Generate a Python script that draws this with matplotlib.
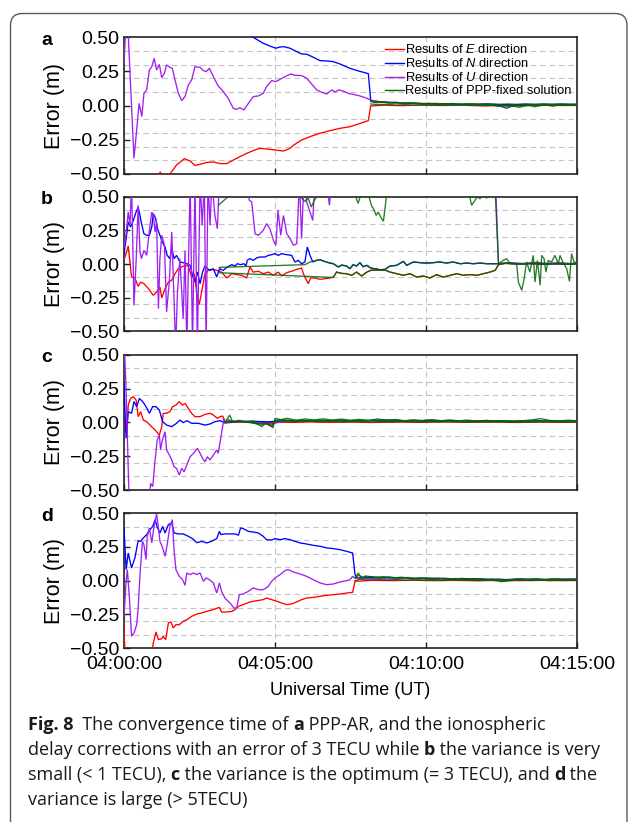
import matplotlib
matplotlib.use("Agg")
import matplotlib.pyplot as plt
from matplotlib.patches import FancyBboxPatch
from matplotlib.ticker import FixedLocator, MultipleLocator, FuncFormatter
from matplotlib.lines import Line2D

plt.rcParams["font.family"] = ["Liberation Sans", "DejaVu Sans"]
plt.rcParams["mathtext.fontset"] = "custom"
plt.rcParams["mathtext.rm"] = "Liberation Sans"
plt.rcParams["mathtext.it"] = "Liberation Sans:italic"

# ---------------------------------------------------------------------------
# Positioning errors (m) against minutes after 04:00:00 UT
# each series: list of (minute, error)
# ---------------------------------------------------------------------------

# (a) PPP-AR
A_E = [(0.0, -0.90), (0.5, -0.72), (0.9, -0.58), (1.14, -0.51), (1.2, -0.485), (1.27, -0.51),
       (1.4, -0.52), (1.52, -0.50), (1.74, -0.434), (2.0, -0.388), (2.19, -0.405), (2.35, -0.437),
       (2.52, -0.429), (2.74, -0.415), (2.96, -0.412), (3.18, -0.424), (3.4, -0.424), (3.62, -0.398),
       (3.84, -0.373), (4.06, -0.349), (4.28, -0.329), (4.5, -0.312), (4.72, -0.317), (5.0, -0.324),
       (5.28, -0.332), (5.5, -0.312), (5.61, -0.29), (5.88, -0.251), (6.16, -0.227), (6.49, -0.202),
       (6.82, -0.183), (7.15, -0.166), (7.48, -0.154), (7.7, -0.139), (7.92, -0.122), (8.09, -0.11),
       (8.17, -0.002), (8.6, 0.003), (9.2, 0.0), (9.8, 0.004), (10.5, 0.001), (11.2, 0.003),
       (11.9, -0.002), (12.6, 0.002), (13.3, 0.0), (14.0, 0.003), (14.6, 0.001), (15.0, 0.002)]
A_N = [(0.0, 0.98), (1.0, 0.86), (2.0, 0.74), (3.0, 0.63), (4.0, 0.54), (4.28, 0.50), (4.61, 0.456),
       (4.94, 0.427), (5.03, 0.42), (5.15, 0.428), (5.28, 0.432), (5.5, 0.42), (5.61, 0.407),
       (5.88, 0.378), (6.05, 0.376), (6.27, 0.354), (6.49, 0.329), (6.71, 0.327), (6.93, 0.322),
       (7.15, 0.305), (7.48, 0.273), (7.73, 0.256), (8.04, 0.237), (8.09, 0.234), (8.17, 0.037),
       (8.5, 0.028), (9.0, 0.022), (9.6, 0.017), (10.2, 0.014), (10.8, 0.012), (11.4, 0.01),
       (12.0, 0.012), (12.6, 0.008), (13.2, 0.01), (13.8, 0.009), (14.4, 0.011), (15.0, 0.01)]
A_U = [(0.0, 0.31), (0.07, 0.62), (0.14, 0.52), (0.33, -0.385), (0.42, -0.178), (0.5, 0.017),
       (0.59, -0.08), (0.66, 0.09), (0.75, 0.115), (0.84, 0.26), (0.92, 0.285), (1.0, 0.346),
       (1.08, 0.261), (1.17, 0.302), (1.25, 0.205), (1.34, 0.237), (1.41, 0.298), (1.52, 0.28),
       (1.6, 0.273), (1.69, 0.188), (1.8, 0.09), (1.91, 0.037), (2.02, 0.066), (2.13, 0.151),
       (2.24, 0.188), (2.35, 0.285), (2.52, 0.28), (2.63, 0.256), (2.72, 0.249), (2.83, 0.273),
       (2.96, 0.212), (3.12, 0.144), (3.29, 0.102), (3.45, 0.054), (3.62, -0.02), (3.73, -0.027),
       (3.84, -0.015), (3.97, -0.032), (4.12, 0.017), (4.28, 0.066), (4.45, 0.071), (4.61, 0.09),
       (4.72, 0.139), (4.89, 0.183), (5.03, 0.176), (5.17, 0.193), (5.33, 0.212), (5.52, 0.232),
       (5.66, 0.222), (5.88, 0.22), (6.05, 0.2), (6.21, 0.159), (6.38, 0.115), (6.55, 0.098),
       (6.71, 0.085), (6.88, 0.115), (6.99, 0.1), (7.1, 0.115), (7.26, 0.107), (7.43, 0.09),
       (7.59, 0.083), (7.81, 0.071), (8.04, 0.054), (8.17, 0.041), (8.4, 0.03), (9.0, 0.02),
       (9.6, 0.015), (10.2, 0.01), (10.8, 0.008), (11.4, 0.005), (12.0, 0.01), (12.6, -0.01),
       (13.2, 0.0), (13.8, 0.005), (14.4, 0.008), (15.0, 0.006)]
A_FE = [(8.17, 0.012), (8.4, 0.008), (8.7, 0.01), (9.0, 0.004), (9.3, 0.008), (9.6, 0.003),
        (9.9, 0.006), (10.2, 0.002), (10.5, 0.006), (10.8, 0.003), (11.1, 0.007), (11.4, 0.002),
        (11.7, 0.005), (12.0, 0.001), (12.3, 0.004), (12.6, 0.0), (12.9, 0.003), (13.2, -0.001),
        (13.5, 0.004), (13.8, 0.001), (14.1, 0.005), (14.4, 0.002), (14.7, 0.004), (15.0, 0.002)]
A_FN = [(8.17, 0.03), (8.35, 0.022), (8.6, 0.026), (8.85, 0.018), (9.1, 0.022), (9.4, 0.015),
        (9.7, 0.02), (10.0, 0.012), (10.3, 0.017), (10.6, 0.011), (10.9, 0.016), (11.2, 0.01),
        (11.5, 0.015), (11.8, 0.009), (12.1, 0.013), (12.4, 0.008), (12.7, 0.012), (13.0, 0.007),
        (13.3, 0.013), (13.6, 0.009), (13.9, 0.014), (14.2, 0.008), (14.5, 0.012), (14.8, 0.009),
        (15.0, 0.011)]
A_FU = [(8.17, 0.035), (8.3, 0.025), (8.5, 0.03), (8.75, 0.02), (9.0, 0.026), (9.25, 0.015),
        (9.5, 0.022), (9.8, 0.012), (10.1, 0.018), (10.4, 0.008), (10.7, 0.015), (11.0, 0.005),
        (11.3, 0.012), (11.6, 0.004), (11.9, 0.01), (12.2, 0.002), (12.5, -0.005), (12.67, -0.02),
        (12.85, -0.002), (13.1, -0.012), (13.35, 0.005), (13.6, -0.008), (13.9, 0.006),
        (14.2, -0.004), (14.5, 0.008), (14.8, 0.002), (15.0, 0.006)]

# (b) ionospheric correction, variance very small
B_E = [(0.0, 0.027), (0.14, 0.134), (0.25, -0.097), (0.36, -0.104), (0.47, -0.166), (0.55, -0.134),
       (0.66, -0.146), (0.81, -0.183), (0.97, -0.233), (1.08, -0.208), (1.19, -0.171), (1.25, -0.252),
       (1.36, -0.183), (1.47, -0.134), (1.58, -0.121), (1.69, -0.072), (1.8, -0.035), (1.91, -0.022),
       (2.02, -0.01), (2.13, -0.015), (2.24, -0.097), (2.32, -0.072), (2.41, -0.208), (2.49, -0.302),
       (2.57, -0.208), (2.68, -0.072), (2.79, -0.047), (2.9, -0.04), (3.07, -0.047), (3.23, -0.06),
       (3.4, -0.104), (3.57, -0.072), (3.73, -0.079), (3.9, -0.084), (4.06, -0.104), (4.17, -0.022),
       (4.28, -0.06), (4.45, -0.054), (4.61, -0.072), (4.78, -0.06), (4.94, -0.084), (5.11, -0.06),
       (5.22, -0.089), (5.39, -0.064), (5.55, -0.054), (5.72, -0.04), (5.88, -0.03), (5.94, -0.072),
       (6.1, -0.146), (6.18, -0.104), (6.32, -0.104), (6.49, -0.114), (6.66, -0.109), (6.82, -0.104),
       (6.93, -0.097), (7.04, -0.06), (7.21, -0.07), (7.37, -0.072), (7.54, -0.084), (7.7, -0.06),
       (7.87, -0.089), (8.04, -0.06), (8.2, -0.045), (8.37, -0.047), (8.59, -0.04), (8.81, -0.06),
       (9.03, -0.072), (9.25, -0.084), (9.47, -0.072), (9.69, -0.097), (9.91, -0.089), (10.13, -0.104),
       (10.35, -0.079), (10.57, -0.097), (10.8, -0.084), (11.02, -0.072), (11.24, -0.084),
       (11.46, -0.079), (11.68, -0.084), (11.9, -0.072), (12.12, -0.06), (12.29, -0.047),
       (12.4, -0.005), (12.6, 0.005), (13.0, 0.0), (13.4, 0.004), (13.8, -0.003), (14.2, 0.002),
       (14.6, -0.002), (15.0, 0.001)]
B_N = [(0.0, 0.077), (0.07, 0.188), (0.14, 0.312), (0.22, 0.275), (0.31, 0.324), (0.4, 0.386),
       (0.47, 0.423), (0.53, 0.361), (0.58, 0.3), (0.66, 0.225), (0.75, 0.213), (0.84, 0.213),
       (0.92, 0.275), (0.97, 0.374), (1.05, 0.337), (1.11, 0.262), (1.19, 0.213), (1.27, 0.163),
       (1.36, 0.126), (1.43, 0.064), (1.52, 0.04), (1.58, 0.114), (1.66, 0.04), (1.74, 0.064),
       (1.85, 0.015), (1.96, 0.01), (2.08, 0.002), (2.19, -0.01), (2.27, -0.084), (2.35, -0.134),
       (2.43, -0.06), (2.52, -0.146), (2.6, -0.06), (2.68, -0.015), (2.76, -0.035), (2.85, -0.047),
       (2.96, -0.035), (3.07, -0.097), (3.16, -0.035), (3.29, -0.047), (3.42, -0.022), (3.57, -0.005),
       (3.68, -0.015), (3.75, 0.002), (3.86, -0.005), (3.97, 0.002), (4.04, -0.015), (4.08, 0.027),
       (4.17, 0.04), (4.28, 0.027), (4.39, 0.045), (4.5, 0.052), (4.67, 0.052), (4.78, 0.064),
       (4.89, 0.069), (5.0, 0.077), (5.11, 0.064), (5.22, 0.077), (5.39, 0.069), (5.55, 0.064),
       (5.66, 0.015), (5.77, 0.027), (5.88, 0.002), (5.99, 0.015), (6.07, 0.126), (6.16, 0.064),
       (6.25, 0.015), (6.38, 0.027), (6.49, 0.032), (6.6, 0.022), (6.77, 0.01), (6.93, 0.002),
       (7.1, -0.022), (7.21, -0.008), (7.37, -0.015), (7.48, -0.035), (7.59, -0.005), (7.7, -0.015),
       (7.81, 0.01), (7.92, -0.02), (8.04, -0.01), (8.17, -0.03), (8.31, -0.035), (8.59, -0.047),
       (8.81, -0.015), (9.03, -0.01), (9.25, 0.02), (9.36, -0.01), (9.58, 0.015), (9.8, 0.01),
       (10.02, 0.007), (10.24, 0.01), (10.46, 0.015), (10.68, 0.007), (10.9, 0.015), (11.13, 0.002),
       (11.35, 0.007), (11.57, 0.002), (11.79, 0.007), (12.01, 0.002), (12.4, 0.002), (12.8, 0.006),
       (13.2, 0.0), (13.6, 0.005), (14.0, -0.002), (14.4, 0.004), (14.8, 0.0), (15.0, 0.003)]
B_U = [(0.0, 0.126), (0.07, 0.225), (0.14, 0.386), (0.2, 0.287), (0.25, 0.62), (0.33, -0.307),
       (0.4, 0.015), (0.47, 0.436), (0.53, 0.089), (0.58, 0.04), (0.66, 0.101), (0.75, 0.064),
       (0.86, 0.287), (0.92, 0.386), (0.97, 0.361), (1.03, 0.238), (1.08, 0.312), (1.14, -0.332),
       (1.19, 0.04), (1.25, 0.213), (1.34, 0.139), (1.41, -0.356), (1.5, -0.134), (1.58, 0.238),
       (1.63, -0.084), (1.71, -0.62), (1.77, -0.208), (1.85, 0.04), (1.96, -0.406), (2.02, 0.101),
       (2.08, -0.62), (2.19, 0.62), (2.27, -0.62), (2.35, 0.62), (2.43, -0.62), (2.52, 0.62),
       (2.59, 0.287), (2.66, 0.62), (2.72, -0.62), (2.78, 0.62), (2.85, 0.287), (2.91, 0.62),
       (3.01, 0.361), (3.09, 0.262), (3.16, 0.62), (3.62, 0.66), (4.06, 0.6), (4.15, 0.473),
       (4.23, 0.46), (4.34, 0.225), (4.45, 0.213), (4.61, 0.25), (4.72, 0.3), (4.83, 0.262),
       (4.97, 0.163), (5.03, 0.139), (5.1, 0.4), (5.19, 0.213), (5.28, 0.361), (5.39, 0.225),
       (5.5, 0.188), (5.61, 0.139), (5.72, 0.151), (5.81, 0.62), (5.88, 0.188), (5.96, 0.62),
       (6.05, 0.46), (6.16, 0.386), (6.25, 0.324), (6.32, 0.62), (6.71, 0.62), (6.8, 0.436),
       (6.88, 0.62), (9.0, 0.7), (12.3, 0.62), (12.4, 0.004), (12.8, 0.01), (13.2, 0.004),
       (13.6, 0.012), (14.0, 0.006), (14.4, 0.01), (14.8, 0.004), (15.0, 0.008)]
B_FE = [(3.16, -0.065), (6.93, -0.1), (7.04, -0.06), (7.21, -0.07), (7.37, -0.072), (7.54, -0.084),
        (7.7, -0.06), (7.87, -0.089), (8.04, -0.06), (8.2, -0.045), (8.37, -0.047), (8.59, -0.04),
        (8.81, -0.06), (9.03, -0.072), (9.25, -0.084), (9.47, -0.072), (9.69, -0.097), (9.91, -0.089),
        (10.13, -0.104), (10.35, -0.079), (10.57, -0.097), (10.8, -0.084), (11.02, -0.072),
        (11.24, -0.084), (11.46, -0.079), (11.68, -0.084), (11.9, -0.072), (12.12, -0.06),
        (12.29, -0.047), (12.4, -0.005), (12.6, 0.005), (13.0, 0.0), (13.4, 0.004), (13.8, -0.003),
        (14.2, 0.002), (14.6, -0.002), (15.0, 0.001)]
B_FN = [(3.16, -0.025), (5.99, -0.005), (6.16, 0.015), (6.38, 0.027), (6.49, 0.032), (6.6, 0.022),
        (6.77, 0.01), (6.93, 0.002), (7.1, -0.022), (7.21, -0.008), (7.37, -0.015), (7.48, -0.035),
        (7.59, -0.005), (7.7, -0.015), (7.81, 0.01), (7.92, -0.02), (8.04, -0.01), (8.17, -0.03),
        (8.31, -0.035), (8.59, -0.047), (8.81, -0.015), (9.03, -0.01), (9.25, 0.02), (9.36, -0.01),
        (9.58, 0.015), (9.8, 0.01), (10.02, 0.007), (10.24, 0.01), (10.46, 0.015), (10.68, 0.007),
        (10.9, 0.015), (11.13, 0.002), (11.35, 0.007), (11.57, 0.002), (11.79, 0.007), (12.01, 0.002),
        (12.4, 0.002), (12.8, 0.006), (13.2, 0.0), (13.6, 0.005), (14.0, -0.002), (14.4, 0.004),
        (14.8, 0.0), (15.0, 0.003)]
B_FU = [(3.13, 0.438), (3.4, 0.49), (3.5, 0.56), (4.5, 0.62), (5.5, 0.58), (5.75, 0.52),
        (5.99, 0.465), (6.1, 0.49), (6.2, 0.423), (6.3, 0.473), (6.45, 0.52), (6.6, 0.55), (7.0, 0.6),
        (7.6, 0.55), (7.75, 0.45), (7.85, 0.52), (8.1, 0.51), (8.2, 0.43), (8.26, 0.411), (8.35, 0.361),
        (8.42, 0.386), (8.5, 0.349), (8.59, 0.317), (8.68, 0.485), (8.8, 0.58), (10.0, 0.65),
        (11.3, 0.58), (11.45, 0.5), (11.51, 0.436), (11.62, 0.473), (11.7, 0.5), (11.79, 0.485),
        (11.9, 0.52), (12.0, 0.49), (12.1, 0.51), (12.3, 0.5), (12.4, 0.002), (12.56, 0.027),
        (12.67, 0.04), (12.78, 0.002), (13.0, 0.002), (13.06, -0.134), (13.17, -0.196),
        (13.25, -0.109), (13.33, 0.015), (13.44, -0.06), (13.55, 0.064), (13.61, -0.134),
        (13.69, 0.027), (13.78, -0.158), (13.83, 0.064), (13.91, 0.04), (13.97, -0.06), (14.05, 0.027),
        (14.16, 0.015), (14.27, 0.064), (14.38, 0.002), (14.44, 0.064), (14.53, 0.015), (14.66, -0.035),
        (14.75, -0.129), (14.82, 0.077), (14.9, 0.015), (14.99, 0.01)]

# (c) ionospheric correction, optimum variance
C_E = [(0.0, 0.005), (0.03, -0.032), (0.09, -0.081), (0.14, 0.128), (0.22, 0.177), (0.31, 0.19),
       (0.4, 0.165), (0.47, 0.042), (0.55, 0.079), (0.64, 0.017), (0.75, 0.005), (0.86, -0.02),
       (0.97, -0.044), (1.08, -0.069), (1.17, -0.094), (1.25, -0.032), (1.3, 0.067), (1.41, 0.067),
       (1.52, 0.079), (1.61, 0.116), (1.72, 0.128), (1.83, 0.153), (1.94, 0.128), (2.02, 0.14),
       (2.13, 0.103), (2.24, 0.067), (2.35, 0.042), (2.52, 0.042), (2.68, 0.059), (2.85, 0.067),
       (2.96, 0.054), (3.09, 0.03), (3.18, 0.042), (3.27, 0.047), (3.34, -0.005), (3.6, 0.0),
       (4.0, 0.003), (4.5, -0.005), (5.0, 0.002), (5.6, 0.0), (6.2, 0.003), (6.8, 0.0), (7.5, 0.002),
       (8.2, -0.001), (9.0, 0.002), (9.8, 0.0), (10.6, 0.003), (11.4, 0.0), (12.2, 0.002),
       (13.0, -0.001), (13.8, 0.002), (14.5, 0.0), (15.0, 0.001)]
C_N = [(0.0, 0.288), (0.03, 0.091), (0.07, -0.118), (0.14, 0.079), (0.25, 0.067), (0.33, 0.153),
       (0.42, 0.116), (0.51, 0.177), (0.62, 0.153), (0.73, 0.116), (0.84, 0.067), (0.95, 0.116),
       (1.06, 0.116), (1.17, 0.091), (1.28, 0.005), (1.41, -0.02), (1.58, -0.032), (1.74, -0.007),
       (1.85, 0.017), (1.96, -0.002), (2.08, 0.012), (2.24, -0.007), (2.46, -0.007), (2.68, -0.02),
       (2.85, -0.012), (3.01, 0.005), (3.18, 0.012), (3.34, -0.002), (3.7, 0.005), (4.2, 0.008),
       (4.8, 0.004), (5.3, 0.012), (6.0, 0.01), (6.7, 0.014), (7.4, 0.01), (8.1, 0.013), (8.8, 0.009),
       (9.5, 0.012), (10.2, 0.01), (10.9, 0.013), (11.6, 0.008), (12.3, 0.011), (13.0, 0.009),
       (13.7, 0.012), (14.4, 0.008), (15.0, 0.01)]
C_U = [(0.0, 0.62), (0.06, 0.3), (0.18, -0.66), (0.5, -0.7), (0.85, -0.56), (0.88, -0.45),
       (0.95, -0.475), (1.03, -0.278), (1.1, -0.131), (1.17, -0.094), (1.21, -0.204), (1.27, -0.13),
       (1.36, -0.069), (1.41, -0.204), (1.5, -0.241), (1.58, -0.278), (1.66, -0.328), (1.74, -0.34),
       (1.83, -0.389), (1.91, -0.34), (1.99, -0.365), (2.08, -0.315), (2.19, -0.254), (2.3, -0.229),
       (2.43, -0.192), (2.52, -0.229), (2.6, -0.266), (2.68, -0.291), (2.76, -0.254), (2.85, -0.278),
       (2.96, -0.241), (3.07, -0.204), (3.12, -0.229), (3.23, -0.081), (3.31, 0.03), (3.34, -0.002),
       (3.6, 0.01), (4.2, 0.0), (4.9, -0.01), (5.5, 0.015), (6.2, 0.01), (7.0, 0.015), (7.8, 0.012),
       (8.6, 0.018), (9.4, 0.01), (10.2, 0.015), (11.0, 0.008), (11.8, 0.012), (12.6, 0.006),
       (13.4, 0.01), (14.2, 0.008), (15.0, 0.01)]
C_FE = [(3.34, 0.0), (3.5, 0.01), (3.8, 0.005), (4.1, 0.0), (4.4, -0.01), (4.6, -0.005), (4.9, -0.02),
        (5.0, 0.01), (5.3, 0.008), (5.7, 0.005), (6.1, 0.009), (6.5, 0.004), (6.9, 0.008), (7.3, 0.003),
        (7.7, 0.007), (8.1, 0.002), (8.5, 0.006), (8.9, 0.003), (9.3, 0.007), (9.7, 0.002), (10.1, 0.006),
        (10.5, 0.003), (10.9, 0.006), (11.3, 0.001), (11.7, 0.005), (12.1, 0.002), (12.5, 0.005),
        (12.9, 0.001), (13.3, 0.004), (13.7, 0.002), (14.1, 0.005), (14.5, 0.002), (15.0, 0.004)]
C_FN = [(3.34, 0.0), (3.45, 0.02), (3.6, 0.005), (3.9, 0.01), (4.2, 0.003), (4.5, -0.02), (4.7, -0.01),
        (4.9, -0.03), (5.0, 0.015), (5.3, 0.02), (5.6, 0.012), (5.9, 0.018), (6.2, 0.01), (6.5, 0.017),
        (6.8, 0.011), (7.1, 0.018), (7.4, 0.012), (7.7, 0.016), (8.0, 0.01), (8.3, 0.017), (8.6, 0.012),
        (8.9, 0.018), (9.2, 0.01), (9.5, 0.015), (9.8, 0.011), (10.1, 0.016), (10.4, 0.009),
        (10.7, 0.014), (11.0, 0.01), (11.3, 0.015), (11.6, 0.008), (11.9, 0.013), (12.2, 0.009),
        (12.5, 0.012), (12.8, 0.006), (13.1, 0.011), (13.4, 0.008), (13.7, 0.014), (14.0, 0.009),
        (14.3, 0.013), (14.6, 0.008), (15.0, 0.011)]
C_FU = [(3.34, 0.0), (3.5, 0.054), (3.6, 0.0), (3.8, 0.015), (4.0, 0.005), (4.3, 0.01), (4.56, -0.032),
        (4.7, -0.005), (4.94, -0.04), (5.0, 0.03), (5.2, 0.02), (5.4, 0.03), (5.7, 0.015), (6.0, 0.025),
        (6.3, 0.018), (6.6, 0.026), (6.9, 0.016), (7.2, 0.024), (7.5, 0.015), (7.8, 0.022), (8.1, 0.014),
        (8.4, 0.025), (8.7, 0.016), (9.0, 0.021), (9.3, 0.012), (9.6, 0.019), (9.9, 0.013), (10.2, 0.02),
        (10.5, 0.012), (10.8, 0.018), (11.1, 0.01), (11.4, 0.016), (11.7, 0.009), (12.0, 0.015),
        (12.3, 0.008), (12.6, 0.013), (12.9, 0.006), (13.2, 0.012), (13.5, 0.018), (13.8, 0.028),
        (14.1, 0.014), (14.4, 0.01), (14.7, 0.016), (15.0, 0.012)]

# (d) ionospheric correction, variance large
D_E = [(0.0, -0.327), (0.03, -0.62), (0.5, -0.72), (0.9, -0.56), (0.97, -0.463), (1.06, -0.381),
       (1.14, -0.438), (1.25, -0.431), (1.3, -0.413), (1.38, -0.438), (1.47, -0.314), (1.55, -0.307),
       (1.63, -0.351), (1.72, -0.327), (1.83, -0.327), (1.96, -0.302), (2.08, -0.29), (2.24, -0.265),
       (2.41, -0.248), (2.57, -0.24), (2.74, -0.228), (2.96, -0.215), (3.16, -0.198), (3.23, -0.233),
       (3.4, -0.233), (3.57, -0.228), (3.68, -0.215), (3.79, -0.191), (3.95, -0.178), (4.17, -0.158),
       (4.39, -0.149), (4.61, -0.141), (4.72, -0.129), (4.89, -0.141), (5.06, -0.153), (5.22, -0.166),
       (5.39, -0.178), (5.55, -0.173), (5.72, -0.158), (5.88, -0.141), (6.05, -0.129), (6.27, -0.124),
       (6.49, -0.116), (6.71, -0.109), (6.93, -0.104), (7.15, -0.099), (7.37, -0.092), (7.57, -0.087),
       (7.65, -0.005), (8.2, 0.002), (8.9, 0.0), (9.6, 0.003), (10.3, 0.0), (11.0, 0.002), (11.7, -0.001),
       (12.4, 0.002), (13.1, 0.0), (13.8, 0.002), (14.5, 0.0), (15.0, 0.001)]
D_N = [(0.0, 0.391), (0.07, 0.082), (0.14, 0.205), (0.2, 0.144), (0.25, 0.094), (0.36, 0.168),
       (0.47, 0.297), (0.55, 0.292), (0.64, 0.317), (0.75, 0.342), (0.86, 0.379), (0.95, 0.403),
       (1.03, 0.453), (1.1, 0.396), (1.19, 0.354), (1.28, 0.403), (1.36, 0.354), (1.47, 0.416),
       (1.58, 0.428), (1.66, 0.354), (1.8, 0.347), (1.96, 0.347), (2.13, 0.329), (2.27, 0.312),
       (2.41, 0.282), (2.57, 0.292), (2.74, 0.28), (2.9, 0.292), (3.07, 0.312), (3.16, 0.366),
       (3.21, 0.342), (3.34, 0.347), (3.51, 0.347), (3.68, 0.347), (3.79, 0.337), (3.86, 0.391),
       (3.95, 0.386), (4.12, 0.366), (4.28, 0.361), (4.45, 0.354), (4.61, 0.329), (4.72, 0.304),
       (4.89, 0.302), (5.0, 0.312), (5.17, 0.304), (5.33, 0.312), (5.5, 0.304), (5.66, 0.292),
       (5.83, 0.28), (6.05, 0.272), (6.27, 0.262), (6.49, 0.255), (6.71, 0.243), (6.93, 0.238),
       (7.15, 0.23), (7.37, 0.218), (7.57, 0.205), (7.65, 0.045), (7.73, 0.02), (8.0, 0.025),
       (8.5, 0.02), (9.0, 0.022), (9.6, 0.015), (10.2, 0.018), (10.8, 0.012), (11.4, 0.015),
       (12.0, 0.01), (12.6, 0.008), (13.2, 0.012), (13.8, 0.008), (14.4, 0.011), (15.0, 0.01)]
D_U = [(0.0, -0.265), (0.07, -0.005), (0.11, 0.082), (0.18, -0.129), (0.25, -0.413), (0.33, -0.389),
       (0.42, -0.327), (0.47, -0.203), (0.53, 0.045), (0.61, 0.292), (0.66, 0.267), (0.73, 0.156),
       (0.77, 0.329), (0.84, 0.391), (0.92, 0.28), (0.97, 0.366), (1.03, 0.441), (1.08, 0.495),
       (1.14, 0.391), (1.19, 0.292), (1.28, 0.243), (1.36, 0.181), (1.43, 0.267), (1.52, 0.403),
       (1.6, 0.453), (1.66, 0.218), (1.72, 0.082), (1.83, 0.032), (1.94, 0.007), (2.02, -0.035),
       (2.08, 0.057), (2.19, 0.045), (2.3, 0.057), (2.41, 0.045), (2.52, 0.057), (2.63, -0.005),
       (2.72, 0.02), (2.83, 0.007), (2.96, -0.017), (3.07, -0.092), (3.16, -0.017), (3.23, -0.079),
       (3.34, -0.129), (3.51, -0.166), (3.64, -0.203), (3.73, -0.203), (3.82, -0.104), (3.95, -0.099),
       (4.12, -0.079), (4.28, -0.054), (4.45, -0.067), (4.61, -0.067), (4.78, -0.042), (4.89, -0.005),
       (5.0, 0.02), (5.17, 0.045), (5.33, 0.074), (5.44, 0.082), (5.61, 0.064), (5.83, 0.05),
       (6.05, 0.032), (6.27, 0.007), (6.49, -0.017), (6.71, -0.03), (6.93, -0.025), (7.15, -0.01),
       (7.37, 0.0), (7.48, 0.007), (7.57, 0.032), (7.65, 0.02), (8.1, 0.015), (8.8, 0.012),
       (9.5, 0.016), (10.2, 0.01), (10.9, 0.013), (11.6, 0.008), (12.3, 0.004), (13.0, 0.009),
       (13.7, 0.006), (14.4, 0.01), (15.0, 0.008)]
D_FE = [(7.65, 0.0), (7.8, 0.01), (8.1, 0.005), (8.4, 0.009), (8.7, 0.003), (9.0, 0.008), (9.3, 0.002),
        (9.6, 0.007), (9.9, 0.002), (10.2, 0.006), (10.5, 0.001), (10.8, 0.006), (11.1, 0.002),
        (11.4, 0.005), (11.7, 0.001), (12.0, 0.005), (12.3, 0.0), (12.6, -0.004), (12.9, 0.002),
        (13.2, 0.005), (13.5, 0.001), (13.8, 0.004), (14.1, 0.0), (14.4, 0.004), (14.7, 0.002),
        (15.0, 0.004)]
D_FN = [(7.65, 0.02), (7.76, 0.04), (7.9, 0.025), (8.2, 0.03), (8.5, 0.022), (8.8, 0.028), (9.1, 0.018),
        (9.4, 0.024), (9.7, 0.015), (10.0, 0.021), (10.3, 0.013), (10.6, 0.019), (10.9, 0.012),
        (11.2, 0.017), (11.5, 0.01), (11.8, 0.015), (12.1, 0.009), (12.4, 0.012), (12.7, 0.006),
        (13.0, 0.012), (13.3, 0.008), (13.6, 0.013), (13.9, 0.007), (14.2, 0.012), (14.5, 0.008),
        (14.8, 0.012), (15.0, 0.01)]
D_FU = [(7.65, 0.02), (7.76, 0.057), (7.87, 0.02), (8.0, 0.035), (8.3, 0.025), (8.6, 0.03), (8.9, 0.02),
        (9.2, 0.026), (9.5, 0.016), (9.8, 0.022), (10.1, 0.012), (10.4, 0.019), (10.7, 0.01),
        (11.0, 0.016), (11.3, 0.008), (11.6, 0.014), (11.9, 0.006), (12.2, 0.01), (12.5, -0.008),
        (12.8, 0.004), (13.1, 0.012), (13.4, 0.006), (13.7, 0.014), (14.0, 0.008), (14.3, 0.013),
        (14.6, 0.007), (15.0, 0.011)]

PANEL_LETTERS = ["a", "b", "c", "d"]
X_TICKS = [0, 5, 10, 15]
Y_TICKS = [-0.5, -0.25, 0.0, 0.25, 0.5]
LEGEND_LABELS = ["Results of $\\mathit{E}$ direction", "Results of $\\mathit{N}$ direction",
                 "Results of $\\mathit{U}$ direction", "Results of PPP-fixed solution"]
CAPTION = [
    [("Fig. 8", True), ("  The convergence time of ", False), ("a", True),
     (" PPP-AR, and the ionospheric", False)],
    [("delay corrections with an error of 3 TECU while ", False), ("b", True),
     (" the variance is very", False)],
    [("small (< 1 TECU), ", False), ("c", True),
     (" the variance is the optimum (= 3 TECU), and ", False), ("d", True), (" the", False)],
    [("variance is large (> 5TECU)", False)],
]

# ---------------------------------------------------------------------------
W, H = 635, 822
fig = plt.figure(figsize=(W / 100, H / 100), dpi=100)

# rounded frame around figure and caption, drawn in pixel units
bg = fig.add_axes([0, 0, 1, 1], zorder=-5)
bg.set_xlim(0, W)
bg.set_ylim(H, 0)
bg.axis("off")
bg.add_patch(FancyBboxPatch((10.5, 13.5), 616.5, 822, boxstyle="round,pad=0,rounding_size=12",
                            fc="white", ec="#5a5a5a", lw=1.0))

C_E_COL, C_N_COL, C_U_COL, C_FIX = "#ff0000", "#0000ff", "#a020f0", "#006400"
AX_L, AX_R = 124, 577
SPANS = [(37.3, 174.0), (196.7, 331.3), (354.7, 490.0), (513.3, 648.0)]
panels = [(A_E, A_N, A_U, A_FE, A_FN, A_FU), (B_E, B_N, B_U, B_FE, B_FN, B_FU),
          (C_E, C_N, C_U, C_FE, C_FN, C_FU), (D_E, D_N, D_U, D_FE, D_FN, D_FU)]


def draw(ax, pts, color, z, alpha=1.0):
    ax.plot([p[0] for p in pts], [p[1] for p in pts], color=color, lw=0.95, zorder=z,
            alpha=alpha, solid_joinstyle="miter")


fmt_x = FuncFormatter(lambda m, _: "04:%02d:00" % int(round(m)))
fmt_y = FuncFormatter(lambda v, _: ("%.2f" % v).replace("-", "\u2212"))

axes = []
for i, (series, (top, bot)) in enumerate(zip(panels, SPANS)):
    ax = fig.add_axes([AX_L / W, 1 - bot / H, (AX_R - AX_L) / W, (bot - top) / H])
    e, n, u, fe, fn, fu = series
    draw(ax, e, C_E_COL, 3)
    draw(ax, n, C_N_COL, 3)
    draw(ax, u, C_U_COL, 3)
    draw(ax, fe, C_FIX, 4, 0.85)
    draw(ax, fn, C_FIX, 4, 0.85)
    draw(ax, fu, C_FIX, 4, 0.85)
    ax.set_xlim(0, 15)
    ax.set_ylim(-0.5, 0.5)
    ax.xaxis.set_major_locator(FixedLocator(X_TICKS))
    ax.yaxis.set_major_locator(FixedLocator(Y_TICKS))
    ax.yaxis.set_minor_locator(MultipleLocator(0.1))
    ax.xaxis.set_major_formatter(fmt_x)
    ax.yaxis.set_major_formatter(fmt_y)
    ax.grid(which="major", axis="x", color="#c4c4c4", ls=(0, (5, 3.5)), lw=0.8)
    ax.grid(which="minor", axis="y", color="#c4c4c4", ls=(0, (5, 3.5)), lw=0.8)
    ax.set_axisbelow(True)
    ax.tick_params(which="major", direction="in", length=4, width=1.0, top=False, right=False,
                   labelsize=14, color="#222222")
    ax.tick_params(axis="y", which="major", pad=3.5)
    ax.tick_params(axis="x", which="major", pad=6)
    ax.tick_params(which="minor", length=0)
    for sp in ax.spines.values():
        sp.set_linewidth(1.2)
        sp.set_color("#222222")
    if i < 3:
        ax.tick_params(axis="x", labelbottom=False)
    ax.set_ylabel("Error (m)", fontsize=15.5)
    ax.yaxis.set_label_coords((65 - AX_L) / (AX_R - AX_L), 0.5)
    fig.text(47 / W, 1 - (top + 3) / H, PANEL_LETTERS[i], fontsize=14, fontweight="bold",
             ha="center", va="center")
    axes.append(ax)

handles = [Line2D([], [], color=c, lw=1.0) for c in (C_E_COL, C_N_COL, C_U_COL, C_FIX)]
axes[0].legend(handles, LEGEND_LABELS, loc="upper right", bbox_to_anchor=(1.0, 1.0),
               frameon=False, fontsize=9.3, handlelength=1.5, handletextpad=0.05,
               labelspacing=0.08, borderaxespad=0.25, borderpad=0.2)

fig.text((AX_L + AX_R) / 2 / W, 1 - 690 / H, "Universal Time (UT)", fontsize=13,
         ha="center", va="center")

# caption with bold run-in labels
renderer = fig.canvas.get_renderer()
CAP_FONT = ["Open Sans", "DejaVu Sans"]
for k, line in enumerate(CAPTION):
    x = 27.5
    y = 730 + 25 * k
    for txt, bold in line:
        t = fig.text(x / W, 1 - y / H, txt, fontsize=13, family=CAP_FONT,
                     fontweight="bold" if bold else "normal", ha="left", va="baseline",
                     color="#1a1a1a")
        x += t.get_window_extent(renderer=renderer).width

fig.savefig("out.png", dpi=100, facecolor="white")
